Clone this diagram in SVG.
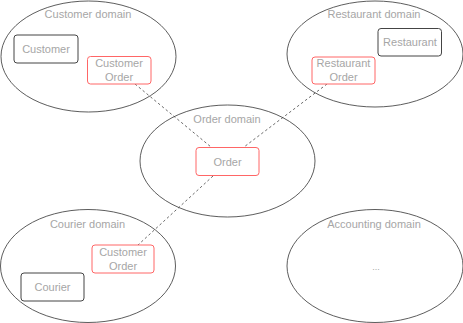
<svg xmlns="http://www.w3.org/2000/svg" width="463" height="323" viewBox="0 0 463 323">
<style>
.dom{fill:#fff;stroke:#333;stroke-width:0.8}
.ent{fill:#fff;stroke:#444;stroke-width:1}
.agg{fill:#fff;stroke:#ff6666;stroke-width:1}
text{font-family:"Liberation Sans",Arial,sans-serif;font-size:11px;fill:#a6a6a6;text-anchor:middle}
.con{fill:none;stroke:#444;stroke-width:0.8;stroke-dasharray:2.5,2.5}
</style>
<rect width="463" height="323" fill="#fff"/>
<g id="customer-domain">
<ellipse class="dom" cx="88.5" cy="56.5" rx="87.5" ry="55.5"/>
<text x="88" y="18">Customer domain</text>
</g>
<g id="restaurant-domain">
<ellipse class="dom" cx="375" cy="54" rx="88" ry="53"/>
<text x="374" y="18">Restaurant domain</text>
</g>
<g id="courier-domain">
<ellipse class="dom" cx="88" cy="266" rx="87.5" ry="56.5"/>
<text x="87.5" y="228">Courier domain</text>
</g>
<g id="accounting-domain">
<ellipse class="dom" cx="375" cy="266" rx="88" ry="56.5"/>
<text x="374" y="228">Accounting domain</text>
<text x="376" y="269.5" style="font-size:9px">...</text>
</g>
<g id="order-domain">
<ellipse class="dom" cx="227.5" cy="161" rx="87.5" ry="56"/>
<text x="227" y="123">Order domain</text>
</g>
<g id="connectors">
<line class="con" x1="135" y1="84" x2="211" y2="147"/>
<line class="con" x1="327" y1="84" x2="244" y2="147"/>
<line class="con" x1="213" y1="176" x2="138" y2="245"/>
</g>
<g id="customer">
<rect class="ent" x="14" y="35" width="64" height="28" rx="3"/>
<text x="46" y="53">Customer</text>
</g>
<g id="customer-order">
<rect class="agg" x="87.5" y="56.5" width="63.5" height="27.5" rx="3"/>
<text x="119" y="67">Customer</text>
<text x="119" y="81">Order</text>
</g>
<g id="restaurant">
<rect class="ent" x="378" y="28.5" width="63.5" height="27.5" rx="3"/>
<text x="410" y="46">Restaurant</text>
</g>
<g id="restaurant-order">
<rect class="agg" x="312" y="57" width="63" height="27" rx="3"/>
<text x="343.5" y="67">Restaurant</text>
<text x="343.5" y="81">Order</text>
</g>
<g id="order">
<rect class="agg" x="196" y="147.5" width="63" height="28" rx="3"/>
<text x="227.5" y="165.5">Order</text>
</g>
<g id="courier-customer-order">
<rect class="agg" x="92" y="245" width="62" height="28" rx="3"/>
<text x="123" y="256">Customer</text>
<text x="123" y="270">Order</text>
</g>
<g id="courier">
<rect class="ent" x="21" y="273" width="63" height="28" rx="3"/>
<text x="52.5" y="291">Courier</text>
</g>
</svg>
